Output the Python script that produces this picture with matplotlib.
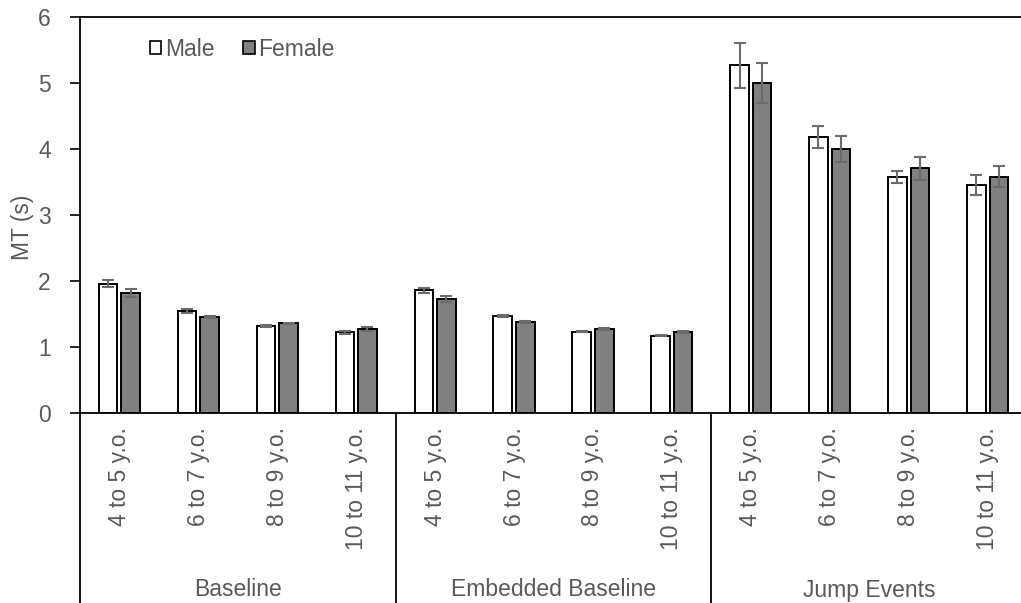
import matplotlib
matplotlib.use("Agg")
import matplotlib.pyplot as plt
from matplotlib.patches import Patch
import numpy as np

plt.rcParams['font.family'] = ['Liberation Sans', 'DejaVu Sans']

# Age bands inside each condition, and the conditions themselves
age_labels = ["4 to 5 y.o.", "6 to 7 y.o.", "8 to 9 y.o.", "10 to 11 y.o."]
conditions = ["Baseline", "Embedded Baseline", "Jump Events"]

# Movement time (s), ordered condition by condition, age band by age band
male_mt = [1.96, 1.54, 1.32, 1.22, 1.86, 1.47, 1.23, 1.17, 5.27, 4.18, 3.58, 3.45]
male_se = [0.05, 0.03, 0.01, 0.02, 0.04, 0.02, 0.01, 0.01, 0.34, 0.17, 0.09, 0.15]
female_mt = [1.82, 1.45, 1.36, 1.27, 1.73, 1.38, 1.27, 1.22, 5.00, 4.00, 3.71, 3.58]
female_se = [0.06, 0.015, 0.01, 0.03, 0.05, 0.01, 0.015, 0.015, 0.30, 0.20, 0.175, 0.16]

W, H, DPI = 1021, 603, 100
TXT = '#595959'
FS = 16.5

fig = plt.figure(figsize=(W / DPI, H / DPI), dpi=DPI)
left_px, right_px, top_px, bot_px = 80, 1027, 17, 413
ax = fig.add_axes([left_px / W, 1 - bot_px / H,
                   (right_px - left_px) / W, (bot_px - top_px) / H])

n = len(male_mt)
x = np.arange(n) + 0.5
bw = 0.235
off = 0.143

err_kw = dict(ecolor='#6b6b6b', elinewidth=1.5, capsize=4.5, capthick=1.5)
ax.bar(x - off, male_mt, bw, yerr=male_se, color='white', edgecolor='black',
       linewidth=1.4, error_kw=err_kw, zorder=2)
ax.bar(x + off, female_mt, bw, yerr=female_se, color='#808080', edgecolor='black',
       linewidth=1.4, error_kw=err_kw, zorder=2)

ax.set_xlim(0, n)
ax.set_ylim(0, 6)
ax.set_yticks(range(0, 7))
ax.tick_params(axis='y', direction='out', length=7, width=1.2, colors='black',
               labelcolor=TXT, labelsize=FS, pad=14)
ax.set_xticks([])

ax.spines['right'].set_visible(False)
for s in ('left', 'bottom', 'top'):
    ax.spines[s].set_linewidth(1.3)
    ax.spines[s].set_color('black')

ax.set_ylabel('MT (s)', fontsize=FS, color=TXT)
ax.yaxis.set_label_coords((34 - left_px) / (right_px - left_px), 0.47)

# Category axis: age labels, condition labels and separators below the plot
tr = ax.get_xaxis_transform()
ages_per_group = len(age_labels)
for i in range(n):
    ax.text(x[i], -14 / (bot_px - top_px), age_labels[i % ages_per_group],
            rotation=90, ha='center', va='top', fontsize=FS, color=TXT,
            transform=tr)
for g, name in enumerate(conditions):
    cx = g * ages_per_group + ages_per_group / 2
    ax.text(cx, -(590 - bot_px) / (bot_px - top_px), name, ha='center',
            va='center', fontsize=FS, color=TXT, transform=tr)
for g in range(len(conditions)):
    bx = g * ages_per_group
    ax.plot([bx, bx], [0, -0.6], color='black', lw=1.3, transform=tr,
            clip_on=False, zorder=3)

handles = [Patch(facecolor='white', edgecolor='black', linewidth=1.2, label='Male'),
           Patch(facecolor='#808080', edgecolor='black', linewidth=1.2, label='Female')]
fig.legend(handles=handles, loc='upper left', bbox_to_anchor=(150 / W, 1 - 38 / H),
           ncol=2, frameon=False, fontsize=FS, handlelength=0.5, handleheight=0.5,
           handletextpad=0.15, columnspacing=1.25, borderpad=0, borderaxespad=0,
           labelcolor=TXT)

fig.savefig('out.png', dpi=DPI)
